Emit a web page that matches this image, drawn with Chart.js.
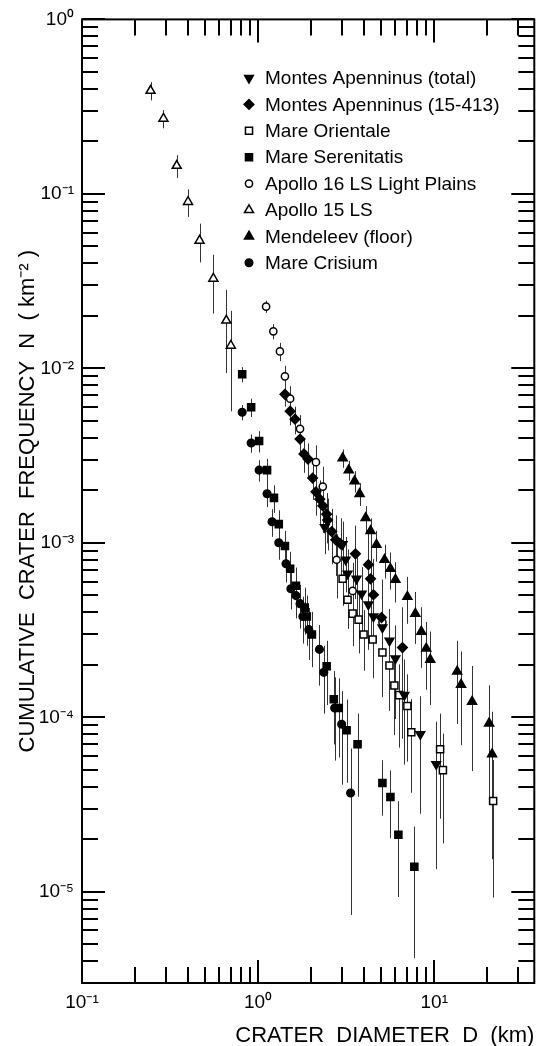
<!DOCTYPE html>
<html><head><meta charset="utf-8">
<script src="https://cdn.jsdelivr.net/npm/chart.js@4.4.0/dist/chart.umd.min.js"></script>
<style>html,body{margin:0;padding:0;background:#fff;}#wrap{width:541px;height:1046px;position:relative;}</style>
</head><body><div id="wrap"><canvas id="c"></canvas></div>
<script>
// ---------- data (D in km, N in km^-2, err = relative 1-sigma error) ----------
const seriesLabels = ['Montes Apenninus (total)','Montes Apenninus (15-413)','Mare Orientale','Mare Serenitatis','Apollo 16 LS Light Plains','Apollo 15 LS','Mendeleev (floor)','Mare Crisium'];

const apenTotalD = [2.39,3.02,3.14,3.22,3.62,3.87,4.23,4.52,5.08,5.57,6.02,6.77,8.34,10.26];
const apenTotalN = [0.00123,0.00098,0.0008,0.000665,0.000622,0.000511,0.000443,0.000378,0.000327,0.000275,0.000217,0.000134,0.00008,0.0000539];
const apenTotalErr = [0.3,0.35,0.35,0.38,0.4,0.42,0.45,0.48,0.5,0.52,0.55,0.6,0.65,0.75];

const apen15D = [1.42,1.52,1.62,1.73,1.82,1.92,2.04,2.13,2.24,2.33,2.45,2.48,2.62,2.76,2.94,3.57,4.23,4.35,4.52,5.02,6.6];
const apen15N = [0.0071,0.00568,0.00511,0.00393,0.00323,0.00302,0.00235,0.00196,0.00178,0.00163,0.00146,0.00135,0.00116,0.00104,0.000987,0.000865,0.000749,0.000622,0.000504,0.000373,0.000251];
const apen15Err = [0.15,0.17,0.18,0.2,0.22,0.23,0.25,0.27,0.28,0.3,0.32,0.33,0.35,0.38,0.4,0.45,0.5,0.55,0.6,0.65,0.7];

const orientD = [3.02,3.22,3.44,3.72,3.97,4.47,5.08,5.57,5.94,6.33,7.04,7.41,10.8,11.2,21.6];
const orientN = [0.000622,0.000472,0.000393,0.000363,0.000298,0.000279,0.000235,0.000198,0.000152,0.000134,0.000116,0.000082,0.0000656,0.0000498,0.0000331];
const orientErr = [0.3,0.32,0.35,0.36,0.38,0.4,0.42,0.45,0.48,0.5,0.52,0.55,0.6,0.62,0.72];

const serenD = [0.812,0.913,1.013,1.124,1.23,1.31,1.42,1.52,1.64,1.84,1.89,2.02,2.45,2.69,2.87,3.18,3.67,5.08,5.64,6.26,7.71];
const serenN = [0.00924,0.00598,0.00383,0.00261,0.00181,0.00128,0.00096,0.00071,0.000568,0.000425,0.000378,0.000298,0.000196,0.000127,0.000113,0.0000843,0.0000701,0.000042,0.0000349,0.0000212,0.0000139];
const serenErr = [0.1,0.12,0.14,0.16,0.18,0.2,0.22,0.25,0.27,0.3,0.32,0.35,0.4,0.45,0.48,0.5,0.5,0.35,0.42,0.56,0.7];

const apollo16D = [1.11,1.22,1.33,1.42,1.52,1.73,2.13,2.33,2.79,3.44,5.08];
const apollo16N = [0.0226,0.0163,0.0125,0.009,0.0067,0.0045,0.0029,0.0021,0.0008,0.00053,0.00035];
const apollo16Err = [0.08,0.1,0.12,0.15,0.18,0.2,0.25,0.3,0.4,0.45,0.6];

const apollo15D = [0.245,0.29,0.345,0.40,0.465,0.557,0.66,0.70];
const apollo15N = [0.39,0.27,0.145,0.09,0.054,0.0327,0.0188,0.0135];
const apollo15Err = [0.12,0.12,0.15,0.18,0.25,0.37,0.5,0.58];

const mendD = [3.02,3.27,3.53,3.77,4.08,4.35,4.70,5.22,5.64,6.02,7.04,7.81,8.45,9.01,9.49,13.5,14.2,16.4,20.5,21.3];
const mendN = [0.00306,0.00261,0.00226,0.00191,0.00139,0.00117,0.000975,0.0008,0.00071,0.000615,0.000491,0.000393,0.00031,0.000248,0.000214,0.000183,0.000154,0.000123,0.0000924,0.0000615];
const mendErr = [0.12,0.13,0.14,0.15,0.17,0.18,0.2,0.22,0.24,0.26,0.3,0.33,0.38,0.42,0.45,0.5,0.55,0.6,0.65,0.75];

const crisD = [0.812,0.913,1.013,1.124,1.20,1.31,1.44,1.535,1.64,1.73,1.795,1.94,2.23,2.36,2.72,2.98,3.35];
const crisN = [0.0056,0.00373,0.00261,0.00191,0.00132,0.001,0.000759,0.000546,0.000498,0.000448,0.000378,0.000318,0.000245,0.000181,0.000113,0.0000912,0.0000368];
const crisErr = [0.1,0.12,0.14,0.16,0.18,0.2,0.22,0.24,0.26,0.28,0.3,0.33,0.38,0.42,0.5,0.55,0.8];

const xTickValues = [0.1, 1, 10];
const yTickValues = [1, 0.1, 0.01, 0.001, 0.0001, 0.00001];
const xMin = 0.1, xMax = 37, yMin = 3e-6, yMax = 1;

// ---------- helpers ----------
const SUP = {'-':'\u207B','0':'\u2070','1':'\u00B9','2':'\u00B2','3':'\u00B3','4':'\u2074','5':'\u2075','6':'\u2076','7':'\u2077','8':'\u2078','9':'\u2079'};
function pow10Label(v){ const e = Math.round(Math.log10(v)); return '10' + String(e).split('').map(c=>SUP[c]).join(''); }
function pts(D,N,E){ return D.map((d,i)=>({x:d, y:N[i], err:E[i]})); }
const FONT = "'Liberation Sans', Arial, sans-serif";

function ds(label, data, style, fill, rotation, radius){
  return {label, data, pointStyle:style, rotation:rotation||0, pointRadius:radius, pointHoverRadius:radius,
    backgroundColor:fill, borderColor:'#000', pointBorderWidth:1.5, borderWidth:1.5, showLine:false};
}
const datasets = [
  ds(seriesLabels[0], pts(apenTotalD,apenTotalN,apenTotalErr), 'triangle', '#000', 180, 5),
  ds(seriesLabels[1], pts(apen15D,apen15N,apen15Err), 'rectRot', '#000', 0, 4.8),
  ds(seriesLabels[2], pts(orientD,orientN,orientErr), 'rect', '#fff', 0, 5),
  ds(seriesLabels[3], pts(serenD,serenN,serenErr), 'rect', '#000', 0, 5),
  ds(seriesLabels[4], pts(apollo16D,apollo16N,apollo16Err), 'circle', '#fff', 0, 3.6),
  ds(seriesLabels[5], pts(apollo15D,apollo15N,apollo15Err), 'triangle', '#fff', 0, 5.2),
  ds(seriesLabels[6], pts(mendD,mendN,mendErr), 'triangle', '#000', 0, 5.2),
  ds(seriesLabels[7], pts(crisD,crisN,crisErr), 'circle', '#000', 0, 3.8)
];

// ---------- plugins ----------
const errorBars = {
  id:'errorBars',
  beforeDatasetsDraw(chart){
    const {ctx, chartArea:a, scales:{x,y}} = chart;
    ctx.save();
    ctx.beginPath(); ctx.rect(a.left, a.top, a.right-a.left, a.bottom-a.top); ctx.clip();
    ctx.strokeStyle = '#333'; ctx.lineWidth = 1;
    chart.data.datasets.forEach(d=>{
      d.data.forEach(p=>{
        const px = Math.round(x.getPixelForValue(p.x)) + 0.5;
        const hi = y.getPixelForValue(p.y*(1+p.err));
        const lo = y.getPixelForValue(Math.max(p.y*(1-p.err), yMin*0.5));
        ctx.beginPath(); ctx.moveTo(px, hi); ctx.lineTo(px, lo); ctx.stroke();
      });
    });
    ctx.restore();
  }
};

const frameTicks = {
  id:'frameTicks',
  afterDraw(chart){
    const {ctx, chartArea:a, scales:{x,y}} = chart;
    ctx.save();
    ctx.strokeStyle = '#000'; ctx.lineWidth = 2;
    ctx.strokeRect(a.left, a.top, a.right-a.left, a.bottom-a.top);
    const major = 23, minor = 16;
    for (let k=-1; k<=1; k++) for (let m=1; m<=9; m++){
      const v = m*Math.pow(10,k); if (v < xMin*0.999 || v > xMax) continue;
      const px = Math.round(x.getPixelForValue(v)); const L = m===1?major:minor;
      ctx.beginPath(); ctx.moveTo(px, a.bottom); ctx.lineTo(px, a.bottom-L);
      ctx.moveTo(px, a.top); ctx.lineTo(px, a.top+L); ctx.stroke();
    }
    for (let k=-6; k<=0; k++) for (let m=1; m<=9; m++){
      const v = m*Math.pow(10,k); if (v < yMin*0.999 || v > yMax*1.001) continue;
      const py = Math.round(y.getPixelForValue(v)); const L = m===1?major:minor;
      ctx.beginPath(); ctx.moveTo(a.left, py); ctx.lineTo(a.left+L, py);
      ctx.moveTo(a.right, py); ctx.lineTo(a.right-L, py); ctx.stroke();
    }
    ctx.restore();
  }
};

const insetLegend = {
  id:'insetLegend',
  afterDraw(chart){
    const {ctx} = chart;
    const mx = 249, tx = 265, top = 78, gap = 26.4;
    ctx.save();
    ctx.font = "19px " + FONT; ctx.textBaseline = 'middle'; ctx.textAlign = 'left';
    chart.data.datasets.forEach((d,i)=>{
      const yy = top + i*gap;
      ctx.fillStyle = d.backgroundColor; ctx.strokeStyle = '#000'; ctx.lineWidth = 1.5;
      Chart.helpers.drawPoint(ctx, {pointStyle:d.pointStyle, rotation:d.rotation, radius:d.pointRadius, borderWidth:1.5}, mx, yy);
      ctx.fillStyle = '#000';
      ctx.fillText(d.label, tx, yy + 1);
    });
    ctx.restore();
  }
};

new Chart(document.getElementById('c'), {
  type:'scatter',
  data:{datasets},
  options:{
    responsive:true, maintainAspectRatio:false, animation:false,
    layout:{padding:{top:16, right:4, left:0, bottom:0}},
    plugins:{legend:{display:false}, tooltip:{enabled:false}},
    scales:{
      x:{type:'logarithmic', min:xMin, max:xMax, position:'bottom',
        afterBuildTicks:s=>{ s.ticks = xTickValues.map(v=>({value:v})); },
        afterFit:s=>{ s.height = 63; },
        grid:{display:false, drawTicks:false}, border:{display:false},
        ticks:{autoSkip:false, maxRotation:0, padding:8, color:'#000', font:{family:FONT, size:19}, callback:v=>pow10Label(v)},
        title:{display:true, text:'CRATER  DIAMETER  D  (km)', align:'end', color:'#000', font:{family:FONT, size:22, lineHeight:1}, padding:{top:0,bottom:-1}}
      },
      y:{type:'logarithmic', min:yMin, max:yMax, position:'left',
        afterBuildTicks:s=>{ s.ticks = yTickValues.map(v=>({value:v})); },
        afterFit:s=>{ s.width = 82; },
        grid:{display:false, drawTicks:false}, border:{display:false},
        ticks:{autoSkip:false, padding:8, color:'#000', font:{family:FONT, size:19}, callback:v=>pow10Label(v)},
        title:{display:true, text:'CUMULATIVE  CRATER  FREQUENCY  N  ( km\u207B\u00B2 )', color:'#000', font:{family:FONT, size:22, lineHeight:1}, padding:{top:17,bottom:0}}
      }
    }
  },
  plugins:[errorBars, frameTicks, insetLegend]
});
</script></body></html>
